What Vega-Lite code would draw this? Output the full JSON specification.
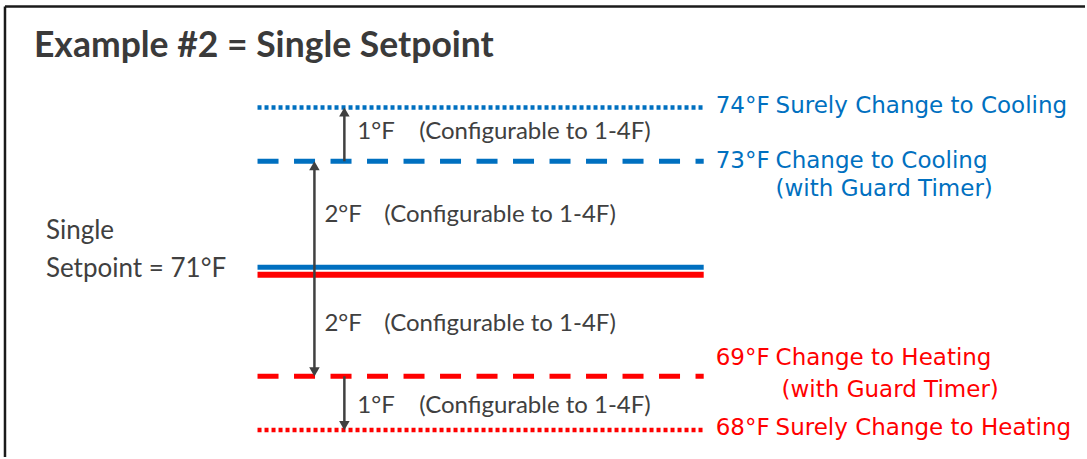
{
  "$schema": "https://vega.github.io/schema/vega-lite/v6.json",
  "width": 1087,
  "height": 459,
  "autosize": {"type": "fit", "contains": "padding"},
  "padding": 0,
  "background": "white",
  "config": {"view": {"stroke": null}},
  "datasets": {
    "border_left": [{"x": 5, "t": 67.5, "t2": 75.88}],
    "border_top": [{"x": 5, "x2": 1087, "t": 75.88}],
    "levels": [
      {"t": 74, "x": 258, "x2": 705, "mode": "cooling", "line": "dotted"},
      {"t": 73, "x": 258, "x2": 705, "mode": "cooling", "line": "dashed"},
      {"t": 69, "x": 258, "x2": 705, "mode": "heating", "line": "dashed"},
      {"t": 68, "x": 258, "x2": 705, "mode": "heating", "line": "dotted"}
    ],
    "setpoint": [{"t": 71, "x": 258, "x2": 705}],
    "shafts": [
      {"x": 345, "t": 73, "t2": 73.92},
      {"x": 315, "t": 69.08, "t2": 72.92},
      {"x": 345, "t": 68.08, "t2": 69}
    ],
    "heads_up": [{"x": 345, "t": 74}, {"x": 315, "t": 73}],
    "heads_down": [{"x": 315, "t": 69}, {"x": 345, "t": 68}],
    "title": [{"x": 34, "t": 74.944, "text": "Example #2 = Single Setpoint"}],
    "setpoint_label": [
      {"x": 46, "t": 71.556, "text": "Single"},
      {"x": 46, "t": 70.846, "text": "Setpoint = 71°F"}
    ],
    "deltas": [
      {"x": 358, "t": 73.407, "text": "1°F"},
      {"x": 325, "t": 71.87, "text": "2°F"},
      {"x": 325, "t": 69.852, "text": "2°F"},
      {"x": 358, "t": 68.315, "text": "1°F"}
    ],
    "config_notes": [
      {"x": 420, "t": 73.407, "text": "(Configurable  to 1-4F)"},
      {"x": 385, "t": 71.87, "text": "(Configurable  to 1-4F)"},
      {"x": 385, "t": 69.852, "text": "(Configurable  to 1-4F)"},
      {"x": 420, "t": 68.315, "text": "(Configurable  to 1-4F)"}
    ],
    "temps": [
      {"x": 717, "t": 73.907, "text": "74°F", "mode": "cooling"},
      {"x": 717, "t": 72.883, "text": "73°F", "mode": "cooling"},
      {"x": 717, "t": 69.21, "text": "69°F", "mode": "heating"},
      {"x": 717, "t": 67.913, "text": "68°F", "mode": "heating"}
    ],
    "descriptions": [
      {"x": 777, "t": 73.907, "text": "Surely Change to Cooling", "mode": "cooling"},
      {"x": 777, "t": 72.883, "text": "Change to Cooling", "mode": "cooling"},
      {"x": 777, "t": 72.357, "text": "(with Guard Timer)", "mode": "cooling"},
      {"x": 777, "t": 69.21, "text": "Change to Heating", "mode": "heating"},
      {"x": 783, "t": 68.624, "text": "(with Guard Timer)", "mode": "heating"},
      {"x": 777, "t": 67.913, "text": "Surely Change to Heating", "mode": "heating"}
    ]
  },
  "layer": [
    {
      "data": {"name": "border_left"},
      "mark": {"type": "rule", "color": "#1a1a1a", "strokeWidth": 2.5},
      "encoding": {
        "x": {"field": "x", "type": "quantitative", "scale": {"domain": [0, 1087], "nice": false, "zero": false}, "axis": null},
        "y": {"field": "t", "type": "quantitative", "scale": {"domain": [67.5, 76], "nice": false, "zero": false}, "axis": null},
        "y2": {"field": "t2"}
      }
    },
    {
      "data": {"name": "border_top"},
      "mark": {"type": "rule", "color": "#1a1a1a", "strokeWidth": 2.5},
      "encoding": {
        "x": {"field": "x", "type": "quantitative", "scale": {"domain": [0, 1087], "nice": false, "zero": false}, "axis": null},
        "x2": {"field": "x2"},
        "y": {"field": "t", "type": "quantitative", "scale": {"domain": [67.5, 76], "nice": false, "zero": false}, "axis": null}
      }
    },
    {
      "data": {"name": "levels"},
      "mark": {"type": "rule", "strokeCap": "butt"},
      "encoding": {
        "x": {"field": "x", "type": "quantitative", "scale": {"domain": [0, 1087], "nice": false, "zero": false}, "axis": null},
        "x2": {"field": "x2"},
        "y": {"field": "t", "type": "quantitative", "scale": {"domain": [67.5, 76], "nice": false, "zero": false}, "axis": null},
        "color": {"field": "mode", "type": "nominal", "scale": {"domain": ["cooling", "heating"], "range": ["#0070C0", "#FF0000"]}, "legend": null},
        "strokeDash": {"field": "line", "type": "nominal", "scale": {"domain": ["dotted", "dashed"], "range": [[4, 3], [21, 15.5]]}, "legend": null},
        "strokeWidth": {"field": "line", "type": "nominal", "scale": {"domain": ["dotted", "dashed"], "range": [4.5, 5]}, "legend": null}
      }
    },
    {
      "data": {"name": "setpoint"},
      "mark": {"type": "rule", "color": "#0070C0", "strokeWidth": 5, "yOffset": -1.5, "strokeCap": "butt"},
      "encoding": {
        "x": {"field": "x", "type": "quantitative", "scale": {"domain": [0, 1087], "nice": false, "zero": false}, "axis": null},
        "x2": {"field": "x2"},
        "y": {"field": "t", "type": "quantitative", "scale": {"domain": [67.5, 76], "nice": false, "zero": false}, "axis": null}
      }
    },
    {
      "data": {"name": "setpoint"},
      "mark": {"type": "rule", "color": "#FF0000", "strokeWidth": 6, "yOffset": 6, "strokeCap": "butt"},
      "encoding": {
        "x": {"field": "x", "type": "quantitative", "scale": {"domain": [0, 1087], "nice": false, "zero": false}, "axis": null},
        "x2": {"field": "x2"},
        "y": {"field": "t", "type": "quantitative", "scale": {"domain": [67.5, 76], "nice": false, "zero": false}, "axis": null}
      }
    },
    {
      "data": {"name": "shafts"},
      "mark": {"type": "rule", "color": "#404040", "strokeWidth": 2.5},
      "encoding": {
        "x": {"field": "x", "type": "quantitative", "scale": {"domain": [0, 1087], "nice": false, "zero": false}, "axis": null},
        "y": {"field": "t", "type": "quantitative", "scale": {"domain": [67.5, 76], "nice": false, "zero": false}, "axis": null},
        "y2": {"field": "t2"}
      }
    },
    {
      "data": {"name": "heads_up"},
      "mark": {"type": "point", "shape": "triangle-up", "filled": true, "size": 110, "color": "#404040", "opacity": 1, "yOffset": 4.5},
      "encoding": {
        "x": {"field": "x", "type": "quantitative", "scale": {"domain": [0, 1087], "nice": false, "zero": false}, "axis": null},
        "y": {"field": "t", "type": "quantitative", "scale": {"domain": [67.5, 76], "nice": false, "zero": false}, "axis": null}
      }
    },
    {
      "data": {"name": "heads_down"},
      "mark": {"type": "point", "shape": "triangle-down", "filled": true, "size": 110, "color": "#404040", "opacity": 1, "yOffset": -4.5},
      "encoding": {
        "x": {"field": "x", "type": "quantitative", "scale": {"domain": [0, 1087], "nice": false, "zero": false}, "axis": null},
        "y": {"field": "t", "type": "quantitative", "scale": {"domain": [67.5, 76], "nice": false, "zero": false}, "axis": null}
      }
    },
    {
      "data": {"name": "title"},
      "mark": {"type": "text", "align": "left", "baseline": "alphabetic", "font": "Lato", "fontWeight": "bold", "fontSize": 35.5, "color": "#3a3a3a"},
      "encoding": {
        "x": {"field": "x", "type": "quantitative", "scale": {"domain": [0, 1087], "nice": false, "zero": false}, "axis": null},
        "y": {"field": "t", "type": "quantitative", "scale": {"domain": [67.5, 76], "nice": false, "zero": false}, "axis": null},
        "text": {"field": "text"}
      }
    },
    {
      "data": {"name": "setpoint_label"},
      "mark": {"type": "text", "align": "left", "baseline": "alphabetic", "font": "Lato", "fontSize": 26, "color": "#404040"},
      "encoding": {
        "x": {"field": "x", "type": "quantitative", "scale": {"domain": [0, 1087], "nice": false, "zero": false}, "axis": null},
        "y": {"field": "t", "type": "quantitative", "scale": {"domain": [67.5, 76], "nice": false, "zero": false}, "axis": null},
        "text": {"field": "text"}
      }
    },
    {
      "data": {"name": "deltas"},
      "mark": {"type": "text", "align": "left", "baseline": "alphabetic", "font": "Lato", "fontSize": 24, "color": "#404040"},
      "encoding": {
        "x": {"field": "x", "type": "quantitative", "scale": {"domain": [0, 1087], "nice": false, "zero": false}, "axis": null},
        "y": {"field": "t", "type": "quantitative", "scale": {"domain": [67.5, 76], "nice": false, "zero": false}, "axis": null},
        "text": {"field": "text"}
      }
    },
    {
      "data": {"name": "config_notes"},
      "mark": {"type": "text", "align": "left", "baseline": "alphabetic", "font": "Lato", "fontSize": 24, "color": "#404040"},
      "encoding": {
        "x": {"field": "x", "type": "quantitative", "scale": {"domain": [0, 1087], "nice": false, "zero": false}, "axis": null},
        "y": {"field": "t", "type": "quantitative", "scale": {"domain": [67.5, 76], "nice": false, "zero": false}, "axis": null},
        "text": {"field": "text"}
      }
    },
    {
      "data": {"name": "temps"},
      "mark": {"type": "text", "align": "left", "baseline": "alphabetic", "font": "DejaVu Sans", "fontSize": 23},
      "encoding": {
        "x": {"field": "x", "type": "quantitative", "scale": {"domain": [0, 1087], "nice": false, "zero": false}, "axis": null},
        "y": {"field": "t", "type": "quantitative", "scale": {"domain": [67.5, 76], "nice": false, "zero": false}, "axis": null},
        "text": {"field": "text"},
        "color": {"field": "mode", "type": "nominal", "scale": {"domain": ["cooling", "heating"], "range": ["#0070C0", "#FF0000"]}, "legend": null}
      }
    },
    {
      "data": {"name": "descriptions"},
      "mark": {"type": "text", "align": "left", "baseline": "alphabetic", "font": "DejaVu Sans", "fontSize": 23},
      "encoding": {
        "x": {"field": "x", "type": "quantitative", "scale": {"domain": [0, 1087], "nice": false, "zero": false}, "axis": null},
        "y": {"field": "t", "type": "quantitative", "scale": {"domain": [67.5, 76], "nice": false, "zero": false}, "axis": null},
        "text": {"field": "text"},
        "color": {"field": "mode", "type": "nominal", "scale": {"domain": ["cooling", "heating"], "range": ["#0070C0", "#FF0000"]}, "legend": null}
      }
    }
  ]
}
